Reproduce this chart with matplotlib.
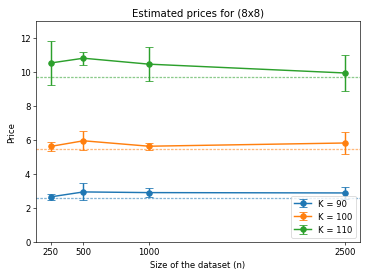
import matplotlib
matplotlib.use("Agg")
import matplotlib.pyplot as plt

n_sizes = [250, 500, 1000, 2500]
labels = ["K = 90", "K = 100", "K = 110"]
means = [
    [2.66, 2.95, 2.91, 2.89],
    [5.63, 5.96, 5.64, 5.83],
    [10.54, 10.82, 10.47, 9.95],
]
errs = [
    [0.17, 0.50, 0.27, 0.36],
    [0.25, 0.57, 0.20, 0.62],
    [1.29, 0.37, 1.00, 1.06],
]
true_prices = [2.60, 5.47, 9.69]
colors = ["#1f77b4", "#ff7f0e", "#2ca02c"]

plt.rcParams['font.size'] = 10.6
fig = plt.figure(figsize=(6.4, 4.8), dpi=57.66)
ax = fig.add_axes([0.0976, 0.1227, 0.878, 0.798])
for m, e, t, c, l in zip(means, errs, true_prices, colors, labels):
    ax.errorbar(n_sizes, m, yerr=e, fmt='-o', color=c, capsize=4.5,
                linewidth=1.8, markersize=7, label=l)
    ax.axhline(t, color=c, linestyle='--', linewidth=1.6, alpha=0.55,
               dashes=(2.0, 1.0))

ax.set_ylim(0, 13)
ax.set_xticks(n_sizes)
ax.set_xlabel("Size of the dataset (n)")
ax.set_ylabel("Price")
ax.set_title("Estimated prices for (8x8)")
ax.legend(loc="lower right")
fig.savefig("out.png", dpi=57.66)
